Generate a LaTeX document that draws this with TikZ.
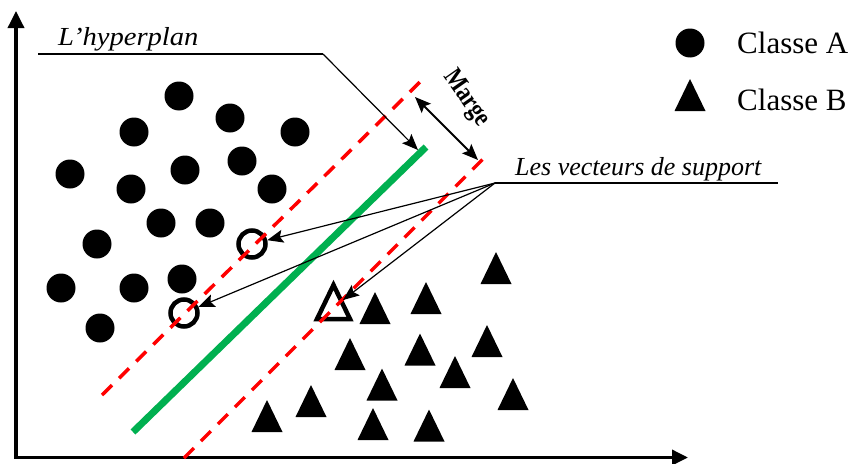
\documentclass[tikz,border=0pt]{standalone}
\usepackage{fontspec}
\setmainfont{Liberation Serif}
\usetikzlibrary{arrows.meta}
\definecolor{svmgreen}{RGB}{0,176,80}
\begin{document}
\begin{tikzpicture}[x=1pt,y=-1pt,
  dotA/.style={circle,fill=black,inner sep=0pt,minimum size=29pt},
  svA/.style={circle,draw=black,line width=4.5pt,inner sep=0pt,minimum size=27pt},
  triB/.pic={\fill[black] (0,-16) -- (15.5,16) -- (-15.5,16) -- cycle;},
  svB/.pic={\draw[black,line width=4.5pt,line join=miter] (0,-16.5) -- (16.5,17.5) -- (-16.5,17.5) -- cycle;},
  axis/.style={line width=3.5pt,line join=miter,{Triangle[length=17pt,width=16pt]}-{Triangle[length=16pt,width=15pt]}},
  margin/.style={red,line width=3.5pt,dash pattern=on 14pt off 10pt},
  hyper/.style={svmgreen,line width=7pt},
  pointer/.style={line width=1.2pt,-{Stealth[length=16pt,width=13pt,inset=3pt]}},
  marge/.style={line width=1.8pt,{Stealth[length=16pt,width=13pt,inset=3pt]}-{Stealth[length=16pt,width=13pt,inset=3pt]}},
  lbl/.style={font=\fontsize{26}{30}\selectfont\itshape,inner sep=0pt,anchor=base west},
  leg/.style={font=\fontsize{31}{36}\selectfont,inner sep=0pt,anchor=base west}
]
\useasboundingbox (0,0) rectangle (851,463);

% axes
\coordinate (Ytop) at (16,11);
\coordinate (O) at (16,457.5);
\coordinate (Xend) at (688,457.5);
\draw[axis] (Ytop) -- (O) -- (Xend);

% class A points
\foreach \x/\y [count=\i] in {179/96,230/118,295/132,134/132,70/174,185/170,242/161,272/189,
  131/189,161/223,210/223,97/244,61/288,134/288,182/279,100/328}
  \node[dotA] (a\i) at (\x,\y) {};

% class B points
\foreach \x/\y [count=\i] in {375/308,426/298,496/268,350/354,420/349.5,487/341,382/384.5,
  455/372,513/394,311/401,267/416,373/424,429/425.5}
  \pic (b\i) at (\x,\y) {triB};

% support vectors
\node[svA] (sv1) at (252,244) {};
\node[svA] (sv2) at (184,313) {};
\pic (sv3) at (333.5,301.5) {svB};
\coordinate (sv3tip) at (343,300);

% margins and hyperplane
\coordinate (r1a) at (102,395);
\coordinate (r1b) at (422,80);
\coordinate (r2a) at (184,458);
\coordinate (r2b) at (487,155);
\draw[margin] (r1a) -- (r1b);
\draw[margin] (r2a) -- (r2b);
\coordinate (g1) at (133,432);
\coordinate (g2) at (426,147);
\draw[hyper] (g1) -- (g2);

% hyperplane label
\node[lbl] (hyplbl) at (58,45) {\scalebox{1.1}[1]{L’hyperplan}};
\coordinate (hl0) at (38,54);
\coordinate (hl1) at (323,54);
\coordinate (hltip) at (418,150);
\draw[line width=1.2pt] (hl0) -- (hl1);
\draw[pointer] (hl1) -- (hltip);

% marge
\coordinate (m1) at (415,97);
\coordinate (m2) at (478,160);
\draw[marge] (m1) -- (m2);
\node[font=\fontsize{27}{30}\selectfont\bfseries,rotate=-55,inner sep=0pt] (margelbl) at (466,99) {\scalebox{0.82}[1]{Marge}};

% support vector label
\node[lbl] (svlbl) at (515,175) {Les vecteurs de support};
\coordinate (fan) at (495,183);
\coordinate (fanend) at (778,183);
\draw[line width=1.2pt] (fan) -- (fanend);
\draw[pointer] (fan) -- (sv1);
\draw[pointer] (fan) -- (sv2);
\draw[pointer] (fan) -- (sv3tip);

% legend
\node[dotA] (legA) at (690,43) {};
\pic (legB) at (690,95) {triB};
\node[leg] (legAtxt) at (737,53) {Classe A};
\node[leg] (legBtxt) at (737,110) {Classe B};
\end{tikzpicture}
\end{document}
